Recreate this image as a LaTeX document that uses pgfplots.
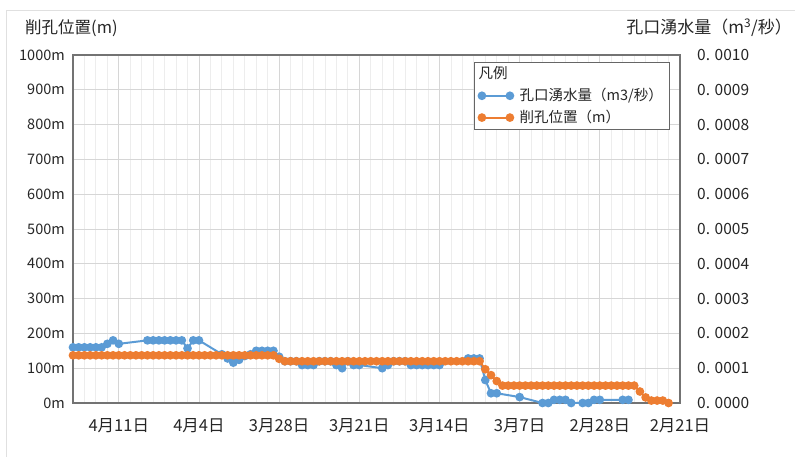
\documentclass[border=0pt]{standalone}
\usepackage{pgfplots}
\pgfplotsset{compat=1.18}
\usepackage{fontspec}
\setmainfont{Noto Sans CJK JP}
\definecolor{sblue}{HTML}{5B9BD5}
\definecolor{sorange}{HTML}{ED7D31}
\definecolor{txt}{HTML}{262626}
\begin{document}
\fontsize{16}{18}\selectfont
\begin{tikzpicture}[x=1pt,y=1pt]
\path[use as bounding box] (-73,-54) rectangle (722,403);
\draw[black!12, line width=1pt] (-66,-60) -- (-66,392) -- (730,392);
% right axis: water inflow
\begin{axis}[
  at={(0,0)}, anchor=south west, scale only axis, width=607pt, height=348pt,
  x dir=reverse, xmin=0, xmax=53,
  xtick={0,7,...,49}, xticklabels={}, minor xtick={0,1,...,53},
  ymin=0, ymax=0.001,
  ytick={0,0.0001,0.0002,0.0003,0.0004,0.0005,0.0006,0.0007,0.0008,0.0009,0.001},
  yticklabels={0. 0000,0. 0001,0. 0002,0. 0003,0. 0004,0. 0005,0. 0006,0. 0007,0. 0008,0. 0009,0. 0010},
  yticklabel pos=right,
  yticklabel style={anchor=west, inner sep=0pt, text=txt, font=\fontsize{15.5}{18}\selectfont},
  yticklabel shift=17pt,
  scaled y ticks=false,
  major tick length=0pt, minor tick length=0pt,
  xmajorgrids, xminorgrids, ymajorgrids,
  major grid style={black!16, line width=0.8pt},
  minor grid style={black!7, line width=0.8pt},
  axis line style={black!55, line width=1.2pt},
  clip=false,
]
\addplot[sblue, line width=2pt, mark=*, mark size=3.3pt, mark options={fill=sblue, draw=sblue}] coordinates {
(53,0.000160)(52.5,0.000160)(52,0.000160)(51.5,0.000160)(51,0.000160)(50.5,0.000160)(50,0.000170)(49.5,0.000180)(49,0.000170)
(46.5,0.000180)(46,0.000180)(45.5,0.000180)(45,0.000180)(44.5,0.000180)(44,0.000180)(43.5,0.000180)(43,0.000157)(42.5,0.000180)(42,0.000180)
(40,0.000140)(39.5,0.000128)(39,0.000116)(38.5,0.000124)(38,0.000135)(37.5,0.000140)(37,0.000150)(36.5,0.000150)(36,0.000150)(35.5,0.000150)(35,0.000133)
(34.5,0.000120)(34,0.000120)(33.5,0.000120)(33,0.000109)(32.5,0.000109)(32,0.000109)(31.5,0.000120)(31,0.000120)(30.5,0.000120)(30,0.000109)(29.5,0.000100)(29,0.000120)(28.5,0.000109)(28,0.000109)
(26,0.000100)(25.5,0.000109)(25,0.000120)(24.5,0.000120)(24,0.000120)(23.5,0.000109)(23,0.000109)(22.5,0.000109)(22,0.000109)(21.5,0.000109)(21,0.000109)
(18.5,0.000128)(18,0.000128)(17.5,0.000128)(17,0.000066)(16.5,0.000028)(16,0.000028)
(14,0.000017)(12,0.000000)(11.5,0.000000)(11,0.000009)(10.5,0.000009)(10,0.000009)(9.5,0.000000)(8.5,0.000000)(8,0.000000)(7.5,0.000009)(7,0.000009)(5,0.000009)(4.5,0.000009)
};
\end{axis}
% left axis: drilling position
\begin{axis}[
  at={(0,0)}, anchor=south west, scale only axis, width=607pt, height=348pt,
  x dir=reverse, xmin=0, xmax=53,
  xtick={0,7,...,49},
  xticklabels={2月21日,2月28日,3月7日,3月14日,3月21日,3月28日,4月4日,4月11日},
  xticklabel style={anchor=north, inner sep=0pt, text=txt, font=\fontsize{16.5}{18}\selectfont},
  xticklabel shift=15pt,
  ymin=0, ymax=1000,
  ytick={0,100,...,1000},
  yticklabels={0m,100m,200m,300m,400m,500m,600m,700m,800m,900m,1000m},
  yticklabel style={anchor=east, inner sep=0pt, text=txt, font=\fontsize{14.5}{17}\selectfont},
  yticklabel shift=8pt,
  major tick length=0pt,
  axis line style={draw=none},
  clip=false,
  legend cell align=left,
  legend style={at={(0.661,0.98)}, anchor=north west, draw=black!60, line width=0.8pt,
     font=\fontsize{14.5}{17}\selectfont, text=txt, inner xsep=4pt, inner ysep=2pt,
     row sep=2pt, column sep=0pt, nodes={inner sep=2.5pt}},
]
\addlegendimage{empty legend}
\addlegendentry{\makebox[0pt][l]{\hspace*{-37pt}凡例}}
\addlegendimage{sblue, line width=2pt, mark=*, mark size=3.3pt, mark options={fill=sblue, draw=sblue},
  legend image code/.code={\draw[mark repeat=1] plot coordinates {(0pt,0pt) (28pt,0pt)};}}
\addlegendentry{\hspace*{4pt}孔口湧水量（m3/秒）}
\addplot[sorange, line width=2pt, mark=*, mark size=3.3pt, mark options={fill=sorange, draw=sorange},
  legend image code/.code={\draw[mark repeat=1] plot coordinates {(0pt,0pt) (28pt,0pt)};}] coordinates {
(53,137)(52.5,137)(52,137)(51.5,137)(51,137)(50.5,137)(50,137)(49.5,137)(49,137)(48.5,137)(48,137)(47.5,137)(47,137)(46.5,137)(46,137)(45.5,137)(45,137)(44.5,137)(44,137)(43.5,137)(43,137)(42.5,137)(42,137)(41.5,137)(41,137)(40.5,137)(40,137)(39.5,137)(39,137)(38.5,137)(38,137)(37.5,137)(37,137)(36.5,137)(36,137)(35.5,137)
(35,127)
(34.5,120)(34,120)(33.5,120)(33,120)(32.5,120)(32,120)(31.5,120)(31,120)(30.5,120)(30,120)(29.5,120)(29,120)(28.5,120)(28,120)(27.5,120)(27,120)(26.5,120)(26,120)(25.5,120)(25,120)(24.5,120)(24,120)(23.5,120)(23,120)(22.5,120)(22,120)(21.5,120)(21,120)(20.5,120)(20,120)(19.5,120)(19,120)(18.5,120)(18,120)(17.5,120)
(17,97)(16.5,80)(16,63)
(15.5,50)(15,50)(14.5,50)(14,50)(13.5,50)(13,50)(12.5,50)(12,50)(11.5,50)(11,50)(10.5,50)(10,50)(9.5,50)(9,50)(8.5,50)(8,50)(7.5,50)(7,50)(6.5,50)(6,50)(5.5,50)(5,50)(4.5,50)(4,50)
(3.5,33)(3,16)(2.5,7)(2,7)(1.5,7)(1,0)
};
\addlegendentry{\hspace*{4pt}削孔位置（m）}
\end{axis}
\node[anchor=west, text=txt, inner sep=0pt, font=\fontsize{16.5}{18}\selectfont] at (-48,375) {削孔位置(m)};
\node[anchor=east, text=txt, inner sep=0pt, font=\fontsize{17}{19}\selectfont] at (719,375) {孔口湧水量（m\textsuperscript{3}/秒）};
\end{tikzpicture}
\end{document}
